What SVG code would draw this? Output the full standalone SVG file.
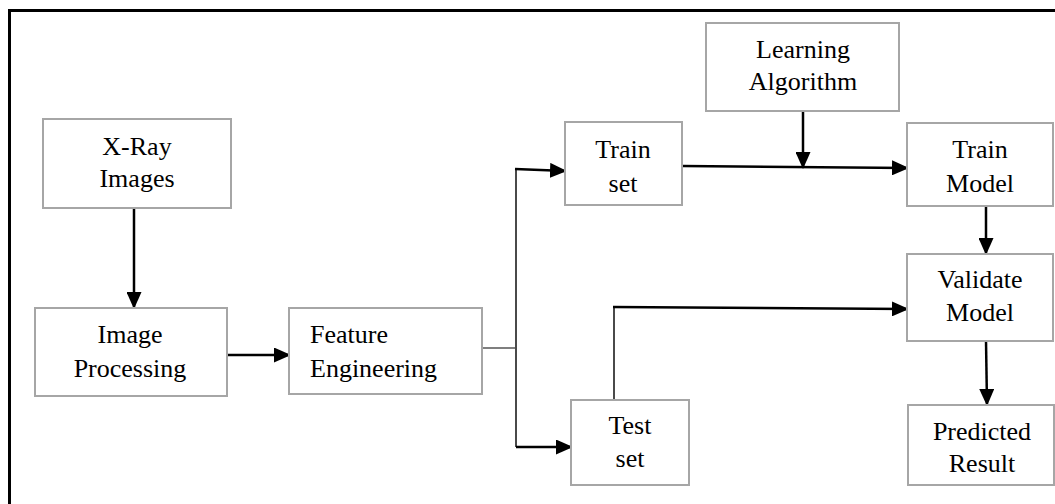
<svg xmlns="http://www.w3.org/2000/svg" width="1055" height="504" viewBox="0 0 1055 504">
  <defs>
    <style>
      .box { fill: #ffffff; stroke: #a6a6a6; stroke-width: 2; }
      .lbl { font-family: "Liberation Serif", "Times New Roman", serif; font-size: 26px; fill: #000000; }
      .mid { text-anchor: middle; }
      .arrow { fill: none; stroke: #000000; stroke-width: 2.5; marker-end: url(#head); }
      .split { fill: none; stroke: #4a4a4a; stroke-width: 2; }
      .thin { fill: none; stroke: #000000; stroke-width: 1.2; }
    </style>
    <marker id="head" markerUnits="userSpaceOnUse" markerWidth="17" markerHeight="15" refX="16" refY="7.5" orient="auto">
      <path d="M0,0 L17,7.5 L0,15 Z" fill="#000000"/>
    </marker>
  </defs>

  <rect width="1055" height="504" fill="#ffffff"/>
  <!-- outer frame -->
  <rect x="9.5" y="10.5" width="1070" height="520" fill="none" stroke="#000000" stroke-width="3"/>

  <g id="connectors">
    <line class="arrow" x1="134" y1="208" x2="134" y2="308"/>
    <line class="arrow" x1="228" y1="355" x2="290" y2="355"/>
    <line class="thin" x1="482" y1="348" x2="516" y2="348"/>
    <line class="split" x1="516" y1="169" x2="516" y2="447"/>
    <line class="arrow" x1="515" y1="169" x2="566" y2="171"/>
    <line class="arrow" x1="516" y1="447" x2="572" y2="447"/>
    <line class="arrow" x1="683" y1="166" x2="908" y2="168"/>
    <line class="arrow" x1="803" y1="111" x2="803" y2="168"/>
    <line class="split" x1="614" y1="405" x2="614" y2="307"/>
    <line class="arrow" x1="613" y1="307" x2="908" y2="309"/>
    <line class="arrow" x1="986" y1="206" x2="986" y2="254"/>
    <line class="arrow" x1="986" y1="341" x2="987" y2="405"/>
  </g>

  <g id="xray-images">
    <rect class="box" x="43" y="119" width="188" height="89"/>
    <text class="lbl mid" x="137" y="155">X-Ray</text>
    <text class="lbl mid" x="137" y="187">Images</text>
  </g>

  <g id="image-processing">
    <rect class="box" x="35" y="308" width="192" height="88"/>
    <text class="lbl mid" x="130" y="343">Image</text>
    <text class="lbl mid" x="130" y="377">Processing</text>
  </g>

  <g id="feature-engineering">
    <rect class="box" x="289" y="308" width="193" height="86"/>
    <text class="lbl" x="310" y="343">Feature</text>
    <text class="lbl" x="310" y="377">Engineering</text>
  </g>

  <g id="train-set">
    <rect class="box" x="565" y="122" width="117" height="83"/>
    <text class="lbl mid" x="623" y="158">Train</text>
    <text class="lbl mid" x="623" y="192">set</text>
  </g>

  <g id="test-set">
    <rect class="box" x="571" y="400" width="118" height="85"/>
    <text class="lbl mid" x="630" y="434">Test</text>
    <text class="lbl mid" x="630" y="467">set</text>
  </g>

  <g id="learning-algorithm">
    <rect class="box" x="706" y="23" width="193" height="88"/>
    <text class="lbl mid" x="803" y="58">Learning</text>
    <text class="lbl mid" x="803" y="90">Algorithm</text>
  </g>

  <g id="train-model">
    <rect class="box" x="907" y="123" width="146" height="83"/>
    <text class="lbl mid" x="980" y="158">Train</text>
    <text class="lbl mid" x="980" y="192">Model</text>
  </g>

  <g id="validate-model">
    <rect class="box" x="907" y="254" width="146" height="87"/>
    <text class="lbl mid" x="980" y="288">Validate</text>
    <text class="lbl mid" x="980" y="321">Model</text>
  </g>

  <g id="predicted-result">
    <rect class="box" x="908" y="405" width="146" height="80"/>
    <text class="lbl mid" x="982" y="440">Predicted</text>
    <text class="lbl mid" x="982" y="472">Result</text>
  </g>
</svg>
